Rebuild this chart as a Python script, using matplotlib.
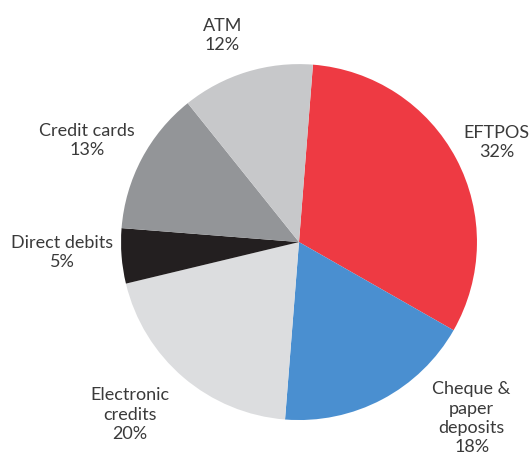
import matplotlib.pyplot as plt

labels = ['EFTPOS', 'Cheque &\npaper\ndeposits', 'Electronic\ncredits', 'Direct debits', 'Credit cards', 'ATM']
shares = [32, 18, 20, 5, 13, 12]
colors = ['#ee3a43', '#4a8fd0', '#dcdddf', '#231f20', '#939598', '#c7c8ca']

# label centres, in pie-radius units
label_pos = [(1.11, 0.56), (0.97, -0.99), (-0.95, -0.97), (-1.33, -0.06), (-1.19, 0.57), (-0.43, 1.16)]

fig = plt.figure(figsize=(5.3, 4.53), dpi=100)
ax = fig.add_axes([0, 0, 1, 1])

ax.pie(shares, colors=colors, startangle=85.5, counterclock=False, radius=1,
       wedgeprops=dict(linewidth=0))

for lab, val, (x, y) in zip(labels, shares, label_pos):
    ax.text(x, y, f"{lab}\n{val}%", ha='center', va='center', multialignment='center',
            fontsize=13, family='Lato', color='#3a3a3a', linespacing=1.25)

ax.set_xlim(-1.680, 1.298)
ax.set_ylim(-1.185, 1.360)
ax.set_aspect('equal')
ax.axis('off')

fig.savefig('out.png', dpi=100)
